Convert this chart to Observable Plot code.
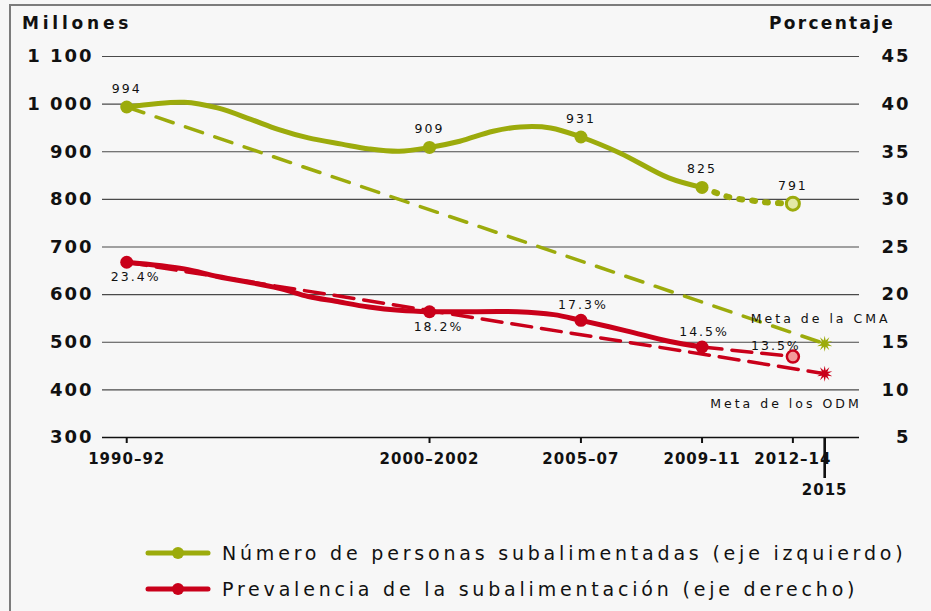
<!DOCTYPE html>
<html><head><meta charset="utf-8">
<script src="https://cdn.jsdelivr.net/npm/d3@7"></script>
<script src="https://cdn.jsdelivr.net/npm/@observablehq/plot@0.6"></script>
<style>
html,body{margin:0;padding:0;background:#f7f7f7;}
#wrap{position:relative;width:931px;height:611px;background:#f7f7f7;overflow:hidden;font-family:"DejaVu Sans",sans-serif;color:#111;}
#frame{position:absolute;left:9px;top:4px;width:1000px;height:1000px;border:2px solid #7c7c7c;}
#chart{position:absolute;left:0;top:0;}
.title{position:absolute;top:15px;font-weight:bold;font-size:17px;line-height:17px;white-space:nowrap;}
.lg{position:absolute;left:145px;height:24px;display:flex;align-items:center;white-space:nowrap;}
.lg span{font-size:19px;line-height:24px;letter-spacing:3.8px;margin-left:11px;}
g[aria-label="y-axis tick label"] text{letter-spacing:2px;}
g[aria-label="x-axis tick label"] text{letter-spacing:1px;}
g[aria-description="value-label"] text{letter-spacing:2px;}
g[aria-description="goal-label"] text{letter-spacing:3px;}
</style>
</head><body>
<div id="wrap">
  <div id="frame"></div>
  <div id="chart"></div>
  <div class="title" style="left:22px;letter-spacing:3.8px">Millones</div>
  <div class="title" style="left:769px;letter-spacing:2.3px">Porcentaje</div>
  <div class="lg" style="top:541px"><svg width="66" height="14"><line x1="3" y1="7" x2="63" y2="7" stroke="#9cab0c" stroke-width="5" stroke-linecap="round"/><circle cx="33" cy="7" r="6" fill="#9cab0c"/></svg><span>Número de personas subalimentadas (eje izquierdo)</span></div>
  <div class="lg" style="top:577px"><svg width="66" height="14"><line x1="3" y1="7" x2="63" y2="7" stroke="#c9001a" stroke-width="5" stroke-linecap="round"/><circle cx="33" cy="7" r="6" fill="#c9001a"/></svg><span>Prevalencia de la subalimentación (eje derecho)</span></div>
</div>
<script>
// ---- ticks / categories ----
const periodYears  = [1991, 2001, 2006, 2010, 2013];
const periodLabels = ["1990–92", "2000–2002", "2005–07", "2009–11", "2012–14"];
const goalYear = 2014.05;
const goalLabel = "2015";
const leftTicks = [300, 400, 500, 600, 700, 800, 900, 1000, 1100];
const pctTicks  = [5, 10, 15, 20, 25, 30, 35, 40, 45];

// ---- number of undernourished people (millions, left axis) ----
const numYears  = [1991, 2001, 2006, 2010];
const numValues = [994, 909, 931, 825];
const numProjYear = 2013;
const numProjValue = 791;
const numCurveYears  = [1991, 1992.9, 1994, 1995.1, 1996, 1997, 1998.1, 1999, 2000, 2001, 2002, 2003.1, 2004, 2005, 2006, 2007.3, 2008.9, 2010];
const numCurveValues = [994, 1004, 992, 968, 947, 929, 916, 906, 901, 909, 922, 943, 952, 950, 931, 897, 845, 825];
const numProjYears  = [2010, 2010.5, 2011, 2011.6, 2012.1, 2013];
const numProjValues = [825, 813, 803, 798, 794, 791];
const cmaGoal = 497;
const cmaLabel = "Meta de la CMA";

// ---- prevalence of undernourishment (%, right axis) ----
const prevYears  = [1991, 2001, 2006, 2010];
const prevValues = [23.4, 18.2, 17.3, 14.5];
const prevProjYear = 2013;
const prevProjValue = 13.5;
const prevCurveYears  = [1991, 1992.9, 1994, 1996, 1997, 1997.9, 1999, 2000, 2001, 2002, 2003.9, 2005.1, 2006, 2007.5, 2008.9, 2010];
const prevCurveValues = [23.4, 22.7, 21.9, 20.7, 19.8, 19.3, 18.7, 18.35, 18.2, 18.2, 18.2, 17.9, 17.3, 16.2, 15.1, 14.5];
const odmGoal = 11.7;
const odmLabel = "Meta de los ODM";

// ---- styling ----
const GREEN = "#9cab0c", RED = "#c9001a";
// right axis (%) shares the left axis scale: 5% ↔ 300, 45% ↔ 1100
const pctToLeft = p => 20 * p + 200;
const leftToPct = v => (v - 200) / 20;

const zip = (xs, ys) => xs.map((x, i) => ({x, y: ys[i]}));
const numCurve = zip(numCurveYears, numCurveValues);
const numProj = zip(numProjYears, numProjValues);
const numPts = numYears.map((x, i) => ({x, y: numValues[i], label: String(numValues[i])}));
const numProjPt = [{x: numProjYear, y: numProjValue, label: String(numProjValue)}];
const cmaLine = [{x: numYears[0], y: numValues[0]}, {x: goalYear, y: cmaGoal}];

const prevCurve = prevCurveYears.map((x, i) => ({x, y: pctToLeft(prevCurveValues[i])}));
const prevPts = prevYears.map((x, i) => ({x, y: pctToLeft(prevValues[i]), label: prevValues[i].toFixed(1) + "%"}));
const prevProjPt = [{x: prevProjYear, y: pctToLeft(prevProjValue), label: prevProjValue.toFixed(1) + "%"}];
const prevProjLine = [prevPts[3], prevProjPt[0]];
const odmLine = [{x: prevYears[0], y: pctToLeft(prevValues[0])}, {x: goalYear, y: pctToLeft(odmGoal)}];

const burst = {
  draw(ctx, size) {
    const r = Math.sqrt(size) * 0.9, n = 10;
    for (let i = 0; i < 2 * n; i++) {
      const a = i * Math.PI / n - Math.PI / 2;
      const rr = i % 2 === 0 ? r : r * 0.42;
      const px = Math.cos(a) * rr, py = Math.sin(a) * rr;
      if (i) ctx.lineTo(px, py); else ctx.moveTo(px, py);
    }
    ctx.closePath();
  }
};

const fmtLeft = d => d3.format(",")(d).replace(",", " ");
const font = "DejaVu Sans";
const VL = {fontSize: 12.5, fill: "#111", ariaDescription: "value-label"};
const GL = {fontSize: 12.5, fill: "#111", ariaDescription: "goal-label"};

const chart = Plot.plot({
  width: 931,
  height: 505,
  marginLeft: 102,
  marginRight: 72,
  marginTop: 56,
  marginBottom: 68,
  style: {background: "transparent", fontFamily: font, color: "#111", overflow: "visible"},
  x: {type: "linear", domain: [1990.2, 2015.2]},
  y: {domain: [300, 1100]},
  marks: [
    Plot.ruleY(leftTicks.slice(1), {stroke: "#4a4a4a", strokeWidth: 1.2}),
    Plot.ruleY([leftTicks[0]], {stroke: "#111", strokeWidth: 1.5}),
    Plot.axisY(leftTicks, {anchor: "left", label: null, tickSize: 0, tickPadding: 9, tickFormat: fmtLeft, fontSize: 18, fontWeight: "bold", fill: "#111"}),
    Plot.axisY(pctTicks.map(pctToLeft), {anchor: "right", label: null, tickSize: 0, tickPadding: 51, textAnchor: "end", tickFormat: leftToPct, fontSize: 18, fontWeight: "bold", fill: "#111"}),
    Plot.axisX(periodYears, {anchor: "bottom", label: null, tickSize: 6, tickPadding: 10, strokeWidth: 2, tickFormat: d => periodLabels[periodYears.indexOf(d)], fontSize: 15, fontWeight: "bold", fill: "#111"}),
    Plot.axisX([goalYear], {anchor: "bottom", label: null, tickSize: 41, strokeWidth: 2.6, stroke: "#111", tickFormat: () => ""}),
    Plot.axisX([goalYear], {anchor: "bottom", label: null, tickSize: 0, tickPadding: 47, tickFormat: () => goalLabel, fontSize: 15, fontWeight: "bold", fill: "#111"}),

    // target lines
    Plot.line(cmaLine, {x: "x", y: "y", stroke: GREEN, strokeWidth: 3.5, strokeDasharray: "18,13"}),
    Plot.line(odmLine, {x: "x", y: "y", stroke: RED, strokeWidth: 3.5, strokeDasharray: "20,10"}),
    Plot.line(prevProjLine, {x: "x", y: "y", stroke: RED, strokeWidth: 3.5, strokeDasharray: "20,10"}),

    // series
    Plot.line(numCurve, {x: "x", y: "y", stroke: GREEN, strokeWidth: 5, curve: "catmull-rom"}),
    Plot.line(numProj, {x: "x", y: "y", stroke: GREEN, strokeWidth: 6, strokeDasharray: "3,10", strokeLinecap: "round", curve: "catmull-rom"}),
    Plot.line(prevCurve, {x: "x", y: "y", stroke: RED, strokeWidth: 5, curve: "catmull-rom"}),

    Plot.dot(numPts, {x: "x", y: "y", r: 6.5, fill: GREEN}),
    Plot.dot(numProjPt, {x: "x", y: "y", r: 6.5, fill: "#e3e8a6", stroke: GREEN, strokeWidth: 3}),
    Plot.dot(prevPts, {x: "x", y: "y", r: 6.5, fill: RED}),
    Plot.dot(prevProjPt, {x: "x", y: "y", r: 6, fill: "#f39a9a", stroke: RED, strokeWidth: 2.5}),
    Plot.dot([{x: goalYear, y: cmaGoal}], {x: "x", y: "y", r: 5, symbol: burst, fill: GREEN}),
    Plot.dot([{x: goalYear, y: pctToLeft(odmGoal)}], {x: "x", y: "y", r: 5, symbol: burst, fill: RED}),

    // value labels
    Plot.text(numPts.concat(numProjPt), {x: "x", y: "y", text: "label", dy: -18, ...VL}),
    Plot.text(prevPts.slice(0, 2), {x: "x", y: "y", text: "label", dx: 9, dy: 15, ...VL}),
    Plot.text(prevPts.slice(2), {x: "x", y: "y", text: "label", dx: 2, dy: -15, ...VL}),
    Plot.text(prevProjPt, {x: "x", y: "y", text: "label", dx: -17, dy: -11, ...VL}),
    Plot.text([{x: goalYear, y: cmaGoal, label: cmaLabel}], {x: "x", y: "y", text: "label", dx: -4, dy: -25, ...GL}),
    Plot.text([{x: goalYear, y: pctToLeft(odmGoal), label: odmLabel}], {x: "x", y: "y", text: "label", textAnchor: "end", dx: 37, dy: 30, ...GL})
  ]
});
document.getElementById("chart").appendChild(chart);
</script>
</body></html>
